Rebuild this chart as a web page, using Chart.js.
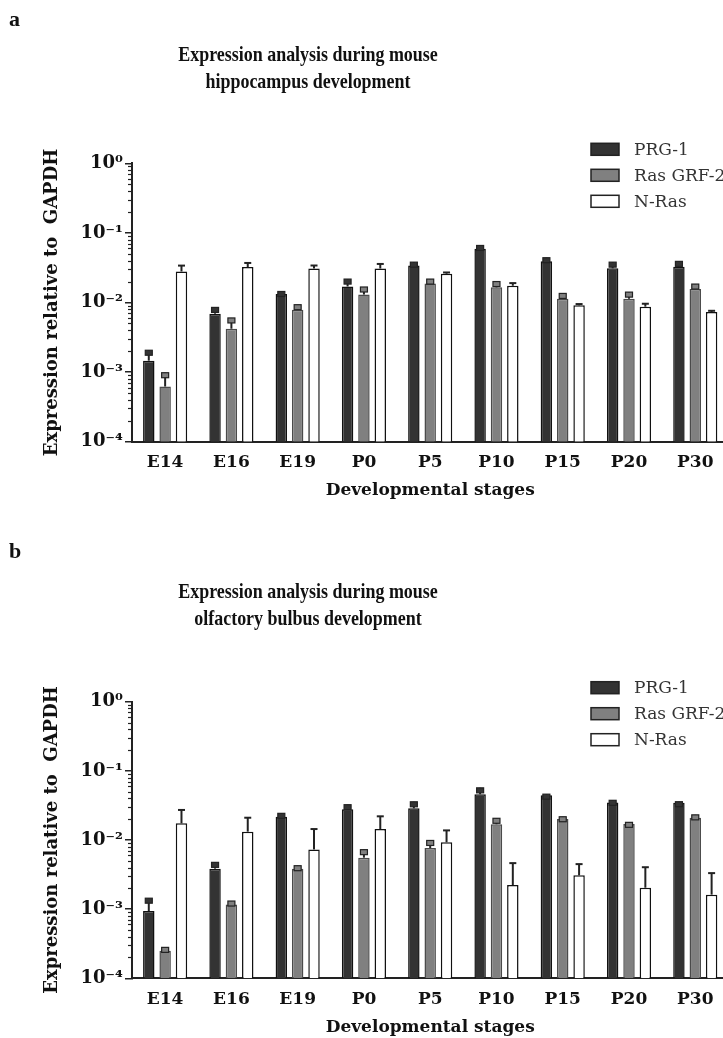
<!DOCTYPE html>
<html>
<head>
<meta charset="utf-8">
<script src="https://cdn.jsdelivr.net/npm/chart.js@4.4.1/dist/chart.umd.min.js"></script>
<style>
  body { margin: 0; width: 723px; height: 1038px; overflow: hidden; background: #fff; position: relative; font-family: "Liberation Serif", serif; }
  canvas { position: absolute; left: 0; }
  .letter { position: absolute; left: 9px; font-weight: bold; font-size: 22px; color: #111; }
  .title { position: absolute; left: 0; width: 616px; text-align: center; font-weight: bold; font-size: 21px; line-height: 27px; color: #111; transform: scaleX(0.855); transform-origin: 308px 0; }
</style>
</head>
<body>
<canvas id="chartA" width="740" height="510" style="top:0"></canvas>
<canvas id="chartB" width="740" height="530" style="top:510px"></canvas>
<div class="letter" style="top:6px">a</div>
<div class="title" style="top:41px">Expression analysis during mouse<br>hippocampus development</div>
<div class="letter" style="top:538px">b</div>
<div class="title" style="top:578px">Expression analysis during mouse<br>olfactory bulbus development</div>
<script>
// categories and series
const stages = ['E14', 'E16', 'E19', 'P0', 'P5', 'P10', 'P15', 'P20', 'P30'];
const seriesNames = ['PRG-1', 'Ras GRF-2', 'N-Ras'];

// y axis ticks (log scale)
const yTickValues = [1e-4, 1e-3, 1e-2, 1e-1, 1];
const yTickLabels = ['10⁻⁴', '10⁻³', '10⁻²', '10⁻¹', '10⁰'];

// a: hippocampus
const hippoPRG1 = [0.00146, 0.0069, 0.0132, 0.017, 0.034, 0.059, 0.039, 0.031, 0.0327];
const hippoPRG1Err = [0.0006, 0.0016, 0.0012, 0.0047, 0.004, 0.007, 0.005, 0.007, 0.0063];
const hippoRasGRF2 = [0.00062, 0.0042, 0.0079, 0.013, 0.0188, 0.0165, 0.0113, 0.0113, 0.0156];
const hippoRasGRF2Err = [0.00036, 0.0018, 0.0014, 0.0037, 0.0029, 0.0035, 0.0022, 0.0028, 0.0028];
const hippoNRas = [0.0279, 0.0323, 0.0308, 0.0308, 0.0259, 0.0174, 0.0091, 0.0087, 0.0073];
const hippoNRasErr = [0.006, 0.0047, 0.0032, 0.005, 0.0011, 0.0016, 0.0004, 0.0009, 0.0003];

// b: olfactory bulbus
const bulbPRG1 = [0.00094, 0.00385, 0.0217, 0.0278, 0.0287, 0.0458, 0.0443, 0.035, 0.0347];
const bulbPRG1Err = [0.0005, 0.0009, 0.0026, 0.0046, 0.007, 0.011, 0.0017, 0.0025, 0.0011];
const bulbRasGRF2 = [0.00025, 0.00117, 0.00385, 0.00555, 0.00765, 0.0169, 0.0201, 0.017, 0.021];
const bulbRasGRF2Err = [0.00003, 0.00014, 0.0004, 0.0017, 0.0022, 0.0037, 0.0016, 0.001, 0.0021];
const bulbNRas = [0.0174, 0.0132, 0.0073, 0.0144, 0.00927, 0.00223, 0.00308, 0.00204, 0.00162];
const bulbNRasErr = [0.0098, 0.0078, 0.0071, 0.0076, 0.0045, 0.0024, 0.0014, 0.002, 0.0017];

const fills = ['#333333', '#808080', '#ffffff'];
const borders = ['#111111', '#4a4a4a', '#111111'];
const caps = ['box', 'box', 'line'];

// error bars: line up from the bar top, with a little box or a short line as cap
const errorBars = {
  id: 'errorBars',
  afterDatasetsDraw(chart) {
    const ctx = chart.ctx;
    const y = chart.scales.y;
    chart.data.datasets.forEach((ds, i) => {
      const meta = chart.getDatasetMeta(i);
      meta.data.forEach((bar, j) => {
        const top = y.getPixelForValue(ds.data[j] + ds.errors[j]);
        ctx.save();
        ctx.strokeStyle = '#222';
        ctx.lineWidth = 2;
        ctx.beginPath();
        ctx.moveTo(bar.x, bar.y);
        ctx.lineTo(bar.x, top);
        ctx.stroke();
        if (ds.capStyle === 'box') {
          ctx.fillStyle = ds.backgroundColor;
          ctx.fillRect(bar.x - 3.5, top, 7, 5);
          ctx.lineWidth = 1.2;
          ctx.strokeRect(bar.x - 3.5, top, 7, 5);
        } else {
          ctx.lineWidth = 2;
          ctx.beginPath();
          ctx.moveTo(bar.x - 3.5, top);
          ctx.lineTo(bar.x + 3.5, top);
          ctx.stroke();
        }
        ctx.restore();
      });
    });
  }
};

// short minor ticks between the decades
const minorTicks = {
  id: 'minorTicks',
  afterDraw(chart) {
    const ctx = chart.ctx;
    const y = chart.scales.y;
    const x0 = chart.chartArea.left;
    ctx.save();
    ctx.strokeStyle = '#222';
    ctx.lineWidth = 1.2;
    for (let d = 0; d < yTickValues.length - 1; d++) {
      for (let k = 2; k <= 9; k++) {
        const py = Math.round(y.getPixelForValue(k * yTickValues[d])) + 0.5;
        ctx.beginPath();
        ctx.moveTo(x0 - 4, py);
        ctx.lineTo(x0, py);
        ctx.stroke();
      }
    }
    ctx.restore();
  }
};

// legend box top right
const boxLegend = {
  id: 'boxLegend',
  afterDraw(chart) {
    const ctx = chart.ctx;
    const top = chart.chartArea.top - 14;
    ctx.save();
    chart.data.datasets.forEach((ds, i) => {
      const cy = top + i * 26;
      ctx.fillStyle = ds.backgroundColor;
      ctx.fillRect(591, cy - 6, 28, 12);
      ctx.strokeStyle = '#222';
      ctx.lineWidth = 1.5;
      ctx.strokeRect(591, cy - 6, 28, 12);
      ctx.fillStyle = '#333';
      ctx.font = '17px "DejaVu Serif"';
      ctx.textBaseline = 'middle';
      ctx.fillText(ds.label, 634, cy + 1);
    });
    ctx.restore();
  }
};

function makeChart(id, values, errors, padTop, padBottom) {
  const datasets = seriesNames.map((name, i) => ({
    label: name,
    data: values[i],
    errors: errors[i],
    capStyle: caps[i],
    backgroundColor: fills[i],
    borderColor: borders[i],
    borderWidth: 1.5,
    categoryPercentage: 0.74,
    barPercentage: 0.7
  }));

  return new Chart(document.getElementById(id), {
    type: 'bar',
    data: { labels: stages, datasets: datasets },
    plugins: [errorBars, minorTicks, boxLegend],
    options: {
      responsive: false,
      animation: false,
      layout: { padding: { top: padTop, bottom: padBottom, left: 0, right: 11.6 } },
      plugins: {
        legend: { display: false },
        tooltip: { enabled: false }
      },
      scales: {
        x: {
          afterFit: s => { s.height = 60; },
          grid: { display: false, drawTicks: false },
          border: { display: true, color: '#222', width: 2 },
          ticks: {
            color: '#111',
            padding: 11,
            font: { family: 'DejaVu Serif', size: 17, weight: 'bold' }
          },
          title: {
            display: true,
            text: 'Developmental stages',
            color: '#111',
            padding: { top: 0, bottom: 1 },
            font: { family: 'DejaVu Serif', size: 17, weight: 'bold' }
          }
        },
        y: {
          type: 'logarithmic',
          min: 1e-4,
          max: 1,
          afterFit: s => { s.width = 132; },
          afterBuildTicks: s => { s.ticks = yTickValues.map(v => ({ value: v })); },
          grid: { drawOnChartArea: false, tickLength: 7, color: '#222', lineWidth: 1.5 },
          border: { display: true, color: '#222', width: 2 },
          ticks: {
            autoSkip: false,
            padding: 2,
            color: '#111',
            font: { family: 'DejaVu Serif', size: 18, weight: 'bold' },
            callback: (v, i) => yTickLabels[i]
          },
          title: {
            display: true,
            text: 'Expression relative to  GAPDH',
            color: '#111',
            padding: { top: 42, bottom: 0 },
            font: { family: 'DejaVu Serif', size: 18, weight: 'bold' }
          }
        }
      }
    }
  });
}

makeChart('chartA',
  [hippoPRG1, hippoRasGRF2, hippoNRas],
  [hippoPRG1Err, hippoRasGRF2Err, hippoNRasErr],
  163.3, 510 - 441.7 - 60);

makeChart('chartB',
  [bulbPRG1, bulbRasGRF2, bulbNRas],
  [bulbPRG1Err, bulbRasGRF2Err, bulbNRasErr],
  191.7, 530 - 468.3 - 60);
</script>
</body>
</html>
